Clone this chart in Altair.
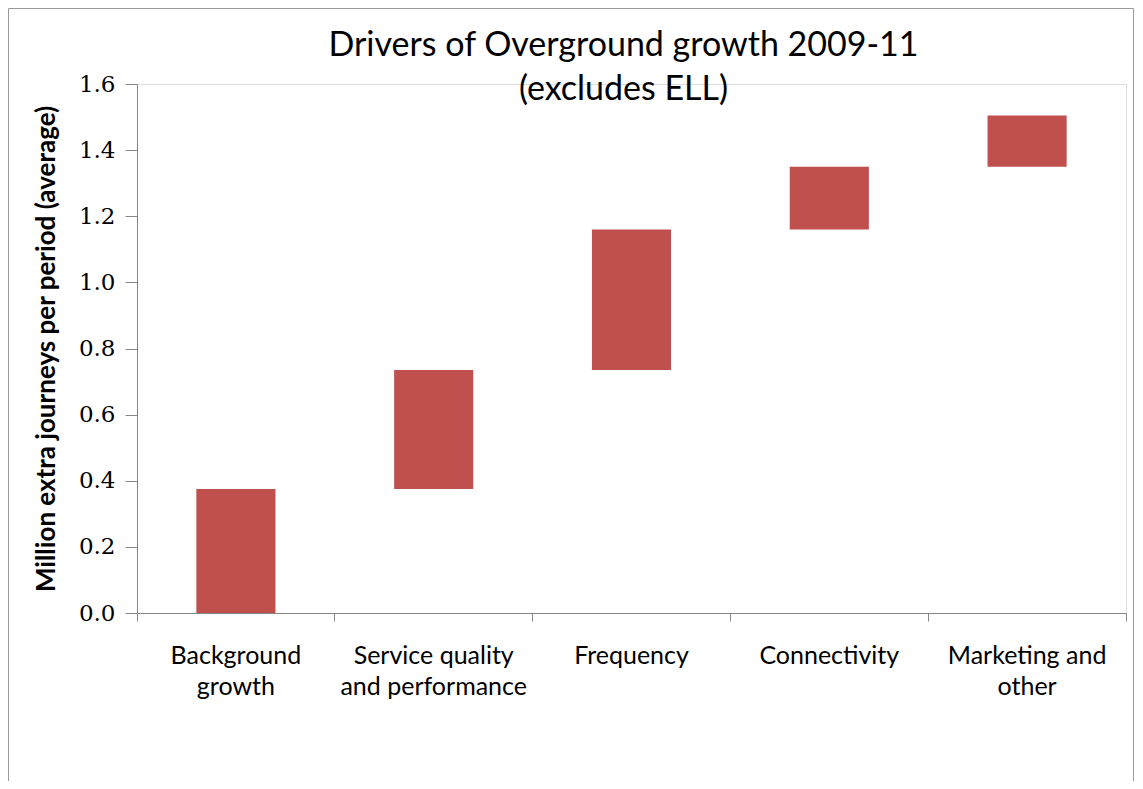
import altair as alt
import pandas as pd

# Data (waterfall of cumulative drivers)
categories = ["Background|growth", "Service quality|and performance", "Frequency",
              "Connectivity", "Marketing and|other"]
increments = [0.375, 0.36, 0.425, 0.19, 0.155]
y_ticks = [0.0, 0.2, 0.4, 0.6, 0.8, 1.0, 1.2, 1.4, 1.6]

starts, ends = [], []
total = 0.0
for v in increments:
    starts.append(round(total, 4))
    total += v
    ends.append(round(total, 4))

df = pd.DataFrame({"category": categories, "start": starts, "end": ends})

W, H = 989, 529
AXIS_GREY = "#868686"
FRAME_GREY = "#9a9a9a"

bars = alt.Chart(df).mark_bar(color="#C0504D", width={"band": 0.4}).encode(
    x=alt.X("category:N", sort=categories,
            scale=alt.Scale(paddingInner=0, paddingOuter=0),
            axis=alt.Axis(title=None, bandPosition=1, tickExtra=True,
                          labelAngle=0,
                          labelExpr="split(datum.label, '|')",
                          labelFont="Lato", labelFontSize=25, labelColor="#000000",
                          labelLineHeight=31, labelPadding=22, labelBaseline="top",
                          labelLimit=400,
                          tickSize=8, tickColor=AXIS_GREY, domainColor=AXIS_GREY,
                          labelFlush=False, labelOverlap=False)),
    y=alt.Y("start:Q", scale=alt.Scale(domain=[0, 1.6], nice=False),
            axis=alt.Axis(title="Million extra journeys per period (average)",
                          values=y_ticks, format=".1f", grid=False,
                          labelFont="DejaVu Serif", labelFontSize=23, labelColor="#000000",
                          labelPadding=10, tickSize=12, tickColor=AXIS_GREY,
                          domainColor=AXIS_GREY,
                          titleFont="Lato", titleFontSize=26, titleFontWeight="bold",
                          titleColor="#000000", titlePadding=19)),
    y2="end:Q",
)

# Chart-area frame (left, top and right edges; bottom lies below the visible page)
one = pd.DataFrame({"f": [0]})
frame_left = alt.Chart(one).mark_rule(color=FRAME_GREY, strokeWidth=1).encode(
    x=alt.value(-128.5), y=alt.value(-75.5), y2=alt.value(H + 200))
frame_right = alt.Chart(one).mark_rule(color=FRAME_GREY, strokeWidth=1).encode(
    x=alt.value(W + 7.5), y=alt.value(-75.5), y2=alt.value(H + 200))
frame_top = alt.Chart(one).mark_rule(color=FRAME_GREY, strokeWidth=1).encode(
    x=alt.value(-128.5), x2=alt.value(W + 7.5), y=alt.value(-75.5))

chart = alt.layer(frame_left, frame_right, frame_top, bars).properties(
    width=W, height=H,
    title=alt.TitleParams(
        text=["Drivers of Overground growth 2009-11", "(excludes ELL)"],
        font="Lato", fontSize=34, fontWeight="normal", color="#000000",
        anchor="middle", lineHeight=44, offset=-99, dx=-8,
    ),
    autosize=alt.AutoSizeParams(type="none"),
    padding={"left": 129, "top": 76, "right": 9, "bottom": 168},
).configure_view(stroke=None).configure(background="white")

chart.save("out.html", embed_options={"renderer": "svg", "actions": False})
